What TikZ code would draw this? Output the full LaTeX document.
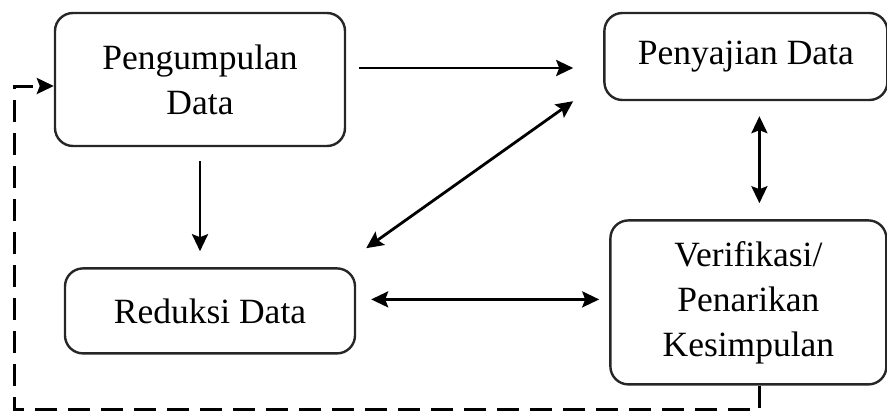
\documentclass[tikz,border=0pt]{standalone}
\usepackage{fontspec}
\setmainfont{Liberation Serif}
\usetikzlibrary{positioning,arrows.meta}
\tikzset{
  box/.style={rectangle, rounded corners=18pt, draw=black!85, line width=2.4pt,
              align=center, font=\fontsize{35.5}{45}\selectfont, inner sep=0pt},
  tip/.style={Stealth[length=17pt,width=16pt,inset=3pt]},
  flow/.style={-{Stealth[length=17pt,width=16pt,inset=3pt]}, line width=2.8pt},
  both/.style={{Stealth[length=17pt,width=16pt,inset=3pt]}-{Stealth[length=17pt,width=16pt,inset=3pt]}, line width=2.8pt},
  back/.style={-{Stealth[length=17pt,width=16pt,inset=3pt]}, line width=3pt, dash pattern=on 22pt off 11pt}
}
\begin{document}
\begin{tikzpicture}[x=1pt,y=-1pt]
\useasboundingbox (0,0) rectangle (887,413);
\node[box, minimum width=290pt, minimum height=133pt] (pd) at (200,79.5) {Pengumpulan\\Data};
\node[box, minimum width=283pt, minimum height=87pt, right=257pt of pd.north east, anchor=north west] (pj) {Penyajian Data};
\node[box, minimum width=290pt, minimum height=85pt, below=120pt of pd.south, anchor=north, xshift=10pt] (rd) {Reduksi Data};
\node[box, minimum width=276pt, minimum height=164pt, below=118pt of pj.south west, anchor=north west, xshift=6pt] (vk) {\raisebox{-6pt}{\begin{tabular}{@{}c@{}}Verifikasi/\\Penarikan\\Kesimpulan\end{tabular}}};
\coordinate (fb) at (14,409);
% alur utama
\draw[flow, shorten <=13pt, shorten >=30pt] ([yshift=11.5pt]pd.east) -- ([yshift=-11.5pt]pj.west);
\draw[flow, shorten <=14pt, shorten >=16pt] (pd.south) -- (pd.south |- rd.north);
\draw[both] ([xshift=-30pt]pj.south west) -- ([xshift=10pt,yshift=19pt]rd.north east);
\draw[both, shorten <=15pt, shorten >=10pt] ([yshift=11.5pt]rd.east) -- ([yshift=3pt]vk.west);
\draw[both, shorten <=15pt, shorten >=16pt] ([xshift=13.5pt]pj.south) -- ([xshift=11pt]vk.north);
% umpan balik
\draw[back] ([xshift=11pt]vk.south) |- (fb) |- ([yshift=-6.5pt]pd.west);
\end{tikzpicture}
\end{document}
